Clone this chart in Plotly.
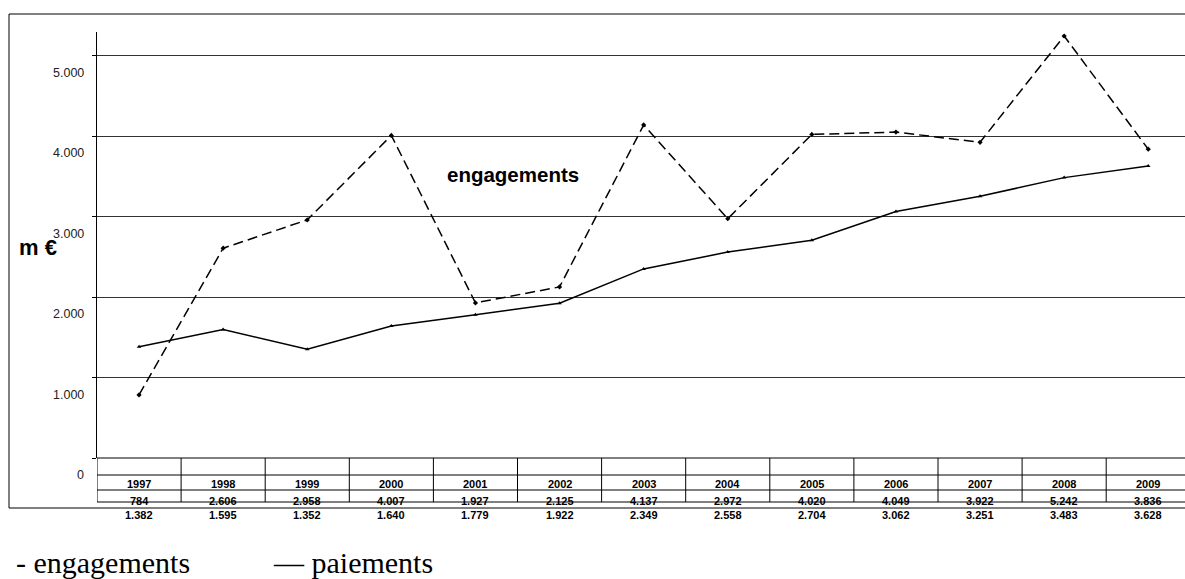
import plotly.graph_objects as go

years = ["1997", "1998", "1999", "2000", "2001", "2002", "2003", "2004", "2005", "2006", "2007", "2008", "2009"]
engagements = [784, 2606, 2958, 4007, 1927, 2125, 4137, 2972, 4020, 4049, 3922, 5242, 3836]
paiements = [1382, 1595, 1352, 1640, 1779, 1922, 2349, 2558, 2704, 3062, 3251, 3483, 3628]
ytick_vals = [0, 1000, 2000, 3000, 4000, 5000]
ytick_text = ["0", "1.000", "2.000", "3.000", "4.000", "5.000"]

W, H = 1185, 579
L, T, B = 97, 32, 121
PH = H - T - B
PW = W - L
COLW = 84.1
px_per_k = 80.5

def py(p):  # pixel y -> paper y
    return (H - B - p) / PH

def px(p):  # pixel x -> paper x
    return (p - L) / PW

xs = list(range(len(years)))
fig = go.Figure()
fig.add_trace(go.Scatter(x=xs, y=engagements, mode="lines+markers", name="engagements",
                         line=dict(color="black", width=1.5, dash="10px,5px"),
                         marker=dict(symbol="diamond", size=4, color="black"),
                         cliponaxis=False))
fig.add_trace(go.Scatter(x=xs, y=paiements, mode="lines+markers", name="paiements",
                         line=dict(color="black", width=1.5),
                         marker=dict(symbol="triangle-up", size=4, color="black"),
                         cliponaxis=False))

shapes = []
for p in [458, 475, 490, 502]:
    shapes.append(dict(type="line", xref="paper", yref="paper", x0=0, x1=1.01, y0=py(p), y1=py(p),
                       line=dict(color="black", width=1)))
for i in range(len(years) + 1):
    shapes.append(dict(type="line", xref="x", yref="paper", x0=i - 0.5, x1=i - 0.5, y0=py(458), y1=py(502),
                       line=dict(color="black", width=1)))
shapes.append(dict(type="rect", xref="paper", yref="paper", x0=px(9), x1=px(W + 5), y0=py(508), y1=py(14),
                   line=dict(color="black", width=1), fillcolor="rgba(0,0,0,0)"))

ann = []
tf = dict(family="Liberation Sans, Arial", size=11, color="black")
for i, yr in enumerate(years):
    ann.append(dict(x=i, y=py(483.5), xref="x", yref="paper", text="<b>%s</b>" % yr, showarrow=False,
                    font=tf, yanchor="middle"))
    ann.append(dict(x=i, y=py(501), xref="x", yref="paper",
                    text="<b>%s</b>" % f"{engagements[i]:,}".replace(",", "."), showarrow=False,
                    font=tf, yanchor="middle"))
    ann.append(dict(x=i, y=py(515), xref="x", yref="paper",
                    text="<b>%s</b>" % f"{paiements[i]:,}".replace(",", "."), showarrow=False,
                    font=tf, yanchor="middle"))
for v, t in zip(ytick_vals, ytick_text):
    ann.append(dict(x=px(86), y=v, xref="paper", yref="y", text=t, showarrow=False, xanchor="right",
                    yanchor="middle", yshift=-17,
                    font=dict(family="Liberation Sans, Arial", size=12.5, color="#222")))
ann.append(dict(x=px(17), y=py(247), xref="paper", yref="paper", text="<b>m €</b>", showarrow=False,
                xanchor="left", yanchor="middle", font=dict(family="Liberation Sans, Arial", size=22, color="black")))
ann.append(dict(x=px(513), y=py(174), xref="paper", yref="paper", text="<b>engagements</b>", showarrow=False,
                xanchor="center", yanchor="middle", font=dict(family="Liberation Sans, Arial", size=20.5, color="black")))
ann.append(dict(x=px(14), y=py(562), xref="paper", yref="paper", text="- engagements", showarrow=False,
                xanchor="left", yanchor="middle", font=dict(family="Liberation Serif, Times New Roman", size=30, color="black")))
ann.append(dict(x=px(271), y=py(562), xref="paper", yref="paper", text="— paiements", showarrow=False,
                xanchor="left", yanchor="middle", font=dict(family="Liberation Serif, Times New Roman", size=30, color="black")))

fig.update_layout(
    width=W, height=H, margin=dict(l=L, r=0, t=T, b=B, pad=0),
    paper_bgcolor="white", plot_bgcolor="white", showlegend=False,
    shapes=shapes, annotations=ann,
    xaxis=dict(range=[-0.5, -0.5 + PW / COLW], showgrid=False, zeroline=False, showline=False,
               showticklabels=False, ticks=""),
    yaxis=dict(range=[0, PH / px_per_k * 1000], tickvals=ytick_vals, showticklabels=False,
               showgrid=True, gridcolor="#333", gridwidth=1, zeroline=False,
               showline=True, linecolor="black", linewidth=1, ticks="outside", ticklen=4,
               tickcolor="black"),
)
fig.write_html("out.html", config={"displayModeBar": False},
               post_script="document.body.style.margin='0px';document.body.style.overflow='hidden';")
